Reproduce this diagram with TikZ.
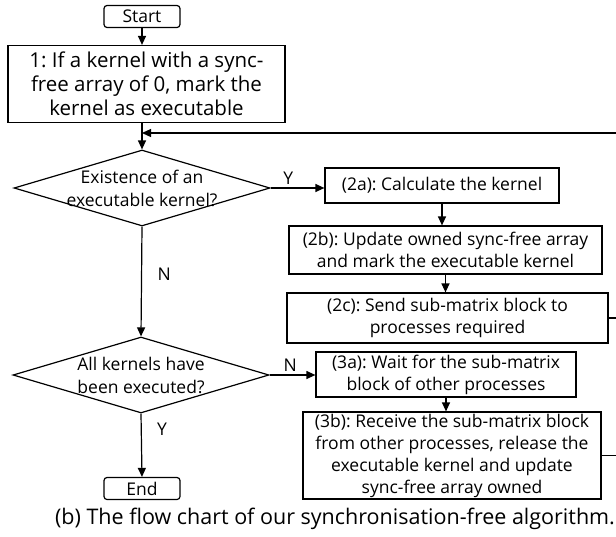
\documentclass[tikz,border=0pt]{standalone}
\usepackage{fontspec}
\setmainfont{Open Sans}
\frenchspacing
\usetikzlibrary{shapes.geometric,positioning,arrows.meta}

\tikzset{
  term/.style={draw, rounded corners=3pt, minimum width=76pt, minimum height=22pt, inner sep=0pt, font=\fontsize{17.5}{18}\selectfont},
  proc/.style={draw, align=center, inner sep=0pt, font=\fontsize{17.5}{22}\selectfont},
  decide/.style={draw, diamond, inner sep=0pt, minimum width=256pt, minimum height=76pt},
  dtext/.style={align=center, font=\fontsize{17.5}{23}\selectfont},
  lbl/.style={font=\fontsize{17.5}{18}\selectfont}
}

\begin{document}
\begin{tikzpicture}[x=1pt,y=-1pt,line width=1.2pt,>={Triangle[length=9pt,width=8pt]}]
\useasboundingbox (0,0) rectangle (616,536);
\node[term] (start) at (142,16.5) {Start};
\node[proc, minimum width=277pt, minimum height=77pt, font=\fontsize{20.5}{24}\selectfont] (s_1) at (146.5,84)
  {1: If a kernel with a sync-\\free array of 0, mark the\\kernel as executable};
\node[decide, label={[dtext]center:{Existence of an\\executable kernel?}}] (d_1) at (142,188) {};
\node[proc, minimum width=234pt, minimum height=35pt] (s_2a) at (442,185.5) {(2a): Calculate the kernel};
\node[proc, minimum width=313pt, minimum height=48pt] (s_2b) at (445.5,250)
  {(2b): Update owned sync-free array\\and mark the executable kernel};
\node[proc, minimum width=321pt, minimum height=50pt] (s_2c) at (447.5,318)
  {(2c): Send sub-matrix block to\\processes required};
\node[decide, label={[dtext]center:{All kernels have\\been executed?}}] (d_2) at (141,375) {};
\node[proc, minimum width=260pt, minimum height=45pt] (s_3a) at (446,374.5)
  {(3a): Wait for the sub-matrix\\block of other processes};
\node[proc, minimum width=298pt, minimum height=87pt] (s_3b) at (452,455.5)
  {(3b): Receive the sub-matrix block\\from other processes, release the\\executable kernel and update\\sync-free array owned};
\node[term] (end) at (142,488.5) {End};
\node[font=\fontsize{21.5}{22}\selectfont] (cap) at (335,519)
  {(b) The flow chart of our synchronisation-free algorithm.};
\coordinate (rt) at (630,133);

\draw[->] (start) -- (start |- s_1.north);
\draw[->] (d_1.north |- s_1.south) -- (d_1.north);
\draw[->] (s_2c.east) -| (rt) -- (d_1.north |- rt);
\draw (s_3b.east) -| (rt);
\draw[->] (d_1.east) -- node[lbl, pos=0.33, above] {Y} (d_1.east -| s_2a.west);
\draw[->] (s_2a.south) -- (s_2a.south |- s_2b.north);
\draw[->] (s_2b.south) -- (s_2b.south |- s_2c.north);
\draw[->] (d_1.south) -- node[lbl, pos=0.43, right=12pt] {N} (d_2.north);
\draw[->] (d_2.east) -- node[lbl, pos=0.45, above] {N} (d_2.east -| s_3a.west);
\draw[->] (s_3a.south) -- (s_3a.south |- s_3b.north);
\draw[->] (d_2.south) -- node[lbl, pos=0.25, right=12pt] {Y} (end.north);
\end{tikzpicture}
\end{document}
